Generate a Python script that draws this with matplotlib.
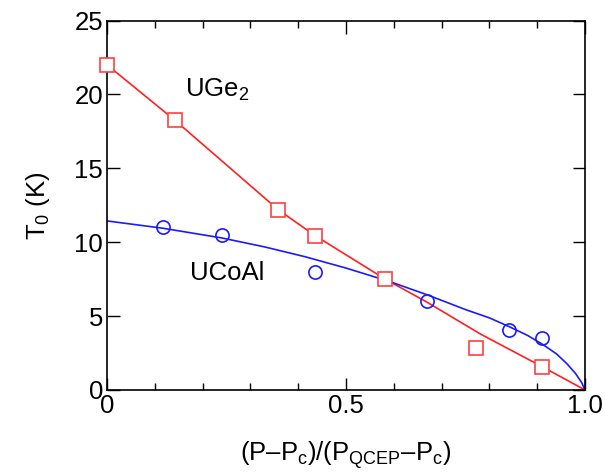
import matplotlib
matplotlib.use("Agg")
import matplotlib.pyplot as plt
from matplotlib.ticker import MultipleLocator

plt.rcParams["font.family"] = ["Liberation Sans", "DejaVu Sans"]
plt.rcParams["mathtext.fontset"] = "custom"
plt.rcParams["mathtext.rm"] = "Liberation Sans"
plt.rcParams["mathtext.it"] = "Liberation Sans"

# UGe2 data (squares) and guide line
uge2_x = [0.0, 0.142, 0.358, 0.435, 0.582, 0.772, 0.911]
uge2_t = [22.0, 18.25, 12.2, 10.45, 7.5, 2.85, 1.55]
uge2_line_x = [0.0, 0.142, 0.358, 0.435, 0.582, 0.669, 0.781, 0.913, 1.0]
uge2_line_t = [22.0, 18.25, 12.2, 10.45, 7.5, 5.95, 3.79, 1.53, 0.0]

# UCoAl data (circles) and fit line
ucoal_x = [0.117, 0.241, 0.435, 0.670, 0.841, 0.911]
ucoal_t = [11.0, 10.5, 8.0, 6.0, 4.03, 3.5]
ucoal_line_x = [0.0, 0.116, 0.24, 0.33, 0.414, 0.5, 0.592, 0.669, 0.75,
                0.8, 0.841, 0.88, 0.913, 0.94, 0.962, 0.98, 0.993, 1.0]
ucoal_line_t = [11.44, 10.95, 10.29, 9.68, 9.02, 8.25, 7.33, 6.45, 5.44,
                4.88, 4.29, 3.69, 3.05, 2.45, 1.78, 1.12, 0.5, 0.0]

RED = "#ff2020"
BLUE = "#1a1aff"

fig = plt.figure(figsize=(6.05, 4.73), dpi=100)
ax = fig.add_axes([0.177, 0.1755, 0.790, 0.781])

ax.plot(uge2_line_x, uge2_line_t, color=RED, lw=1.2, zorder=2)
ax.plot(ucoal_line_x, ucoal_line_t, color=BLUE, lw=1.2, zorder=2)
ax.plot(uge2_x, uge2_t, ls="none", marker="s", ms=10, mfc="white",
        mec="#ff4040", mew=1.2, zorder=3, clip_on=False)
ax.plot(ucoal_x, ucoal_t, ls="none", marker="o", ms=9.5, mfc="none",
        mec=BLUE, mew=1.2, zorder=3, clip_on=False)

ax.text(0.164, 20.3, "UGe$_2$", fontsize=18.5, va="center", ha="left")
ax.text(0.174, 7.9, "UCoAl", fontsize=18.5, va="center", ha="left")

ax.set_xlim(0, 1.0)
ax.set_ylim(0, 25)
ax.xaxis.set_minor_locator(MultipleLocator(0.1))
ax.yaxis.set_major_locator(MultipleLocator(5))
ax.set_xticks([0, 0.5, 1.0])
ax.set_xticklabels(["0", "0.5", "1.0"])
ax.tick_params(which="both", direction="in", top=True, right=True,
               labelsize=18.5, width=1.0, pad=3)
ax.tick_params(which="major", length=9)
ax.tick_params(which="minor", length=5)
for s in ax.spines.values():
    s.set_linewidth(1.2)

ax.set_xlabel("(P\u2013P$_\\mathrm{c}$)/(P$_\\mathrm{QCEP}$\u2013P$_\\mathrm{c}$)",
              fontsize=18.5, labelpad=15)
ax.set_ylabel("T$_0$ (K)", fontsize=18.5, labelpad=16)

fig.savefig("out.png", dpi=100)
